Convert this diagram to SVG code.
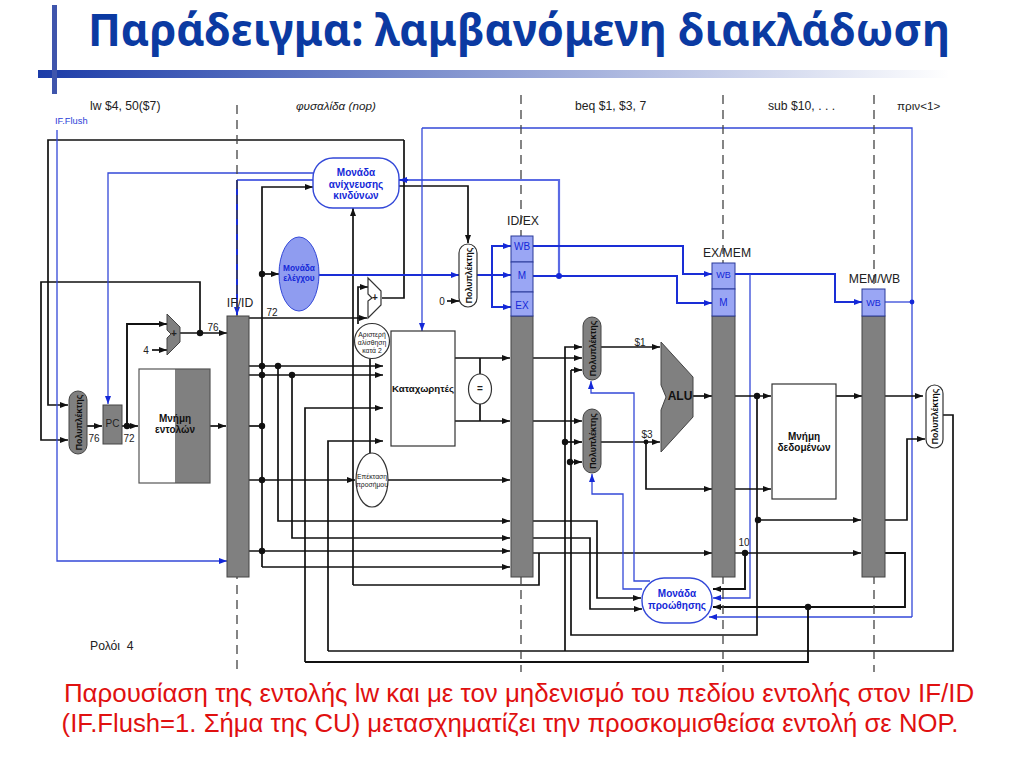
<svg xmlns="http://www.w3.org/2000/svg" width="1024" height="768" viewBox="0 0 1024 768">
<style>
text{font-family:"Liberation Sans",Arial,sans-serif;fill:#222}
.title{font-family:"Noto Sans","Open Sans",sans-serif;font-weight:700;font-size:44px;fill:#0b3aa2}
.hdr{font-size:12.2px}
.cap{font-size:25.700px;fill:#e01010;text-anchor:middle}
.b{font-weight:700;font-size:10px;text-anchor:middle;fill:#111}
.bl{font-weight:700;font-size:10px;text-anchor:middle;fill:#1428d8}
.reg{font-size:10px;text-anchor:middle;fill:#1428d8}
.lab{font-size:12.2px;text-anchor:middle;fill:#222}
.n{font-size:10px;text-anchor:middle;fill:#222}
.tiny{font-size:6.800px;text-anchor:middle;fill:#222}
.mt{font-weight:700;font-size:8.800px;text-anchor:middle;fill:#111}
.dash{stroke:#444;stroke-width:1.3;stroke-dasharray:9 6;fill:none}
.k{fill:none;stroke:#111;stroke-width:1.7}
.kk{fill:none;stroke:#111;stroke-width:1.900}
.u{fill:none;stroke:#1a2ed6;stroke-width:2}
.ut{fill:none;stroke:#3348d8;stroke-width:1.300}
.ul{fill:none;stroke:#5a6ae4;stroke-width:2.200}
.ke{marker-end:url(#ak)}
.ue{marker-end:url(#au)}
.dk{fill:#111}
.du{fill:#1428d8}
.box{fill:#fff;stroke:#333;stroke-width:1.200}
.gray{fill:#808080;stroke:#444;stroke-width:1}
.blue{fill:#9aa6f4;stroke:#2a3a9a;stroke-width:1}
.ubox{fill:#fff;stroke:#3348d8;stroke-width:1.400}
</style>
<defs>
<marker id="ak" markerUnits="userSpaceOnUse" markerWidth="9" markerHeight="7" refX="8" refY="3" orient="auto"><path d="M0 0L8 3L0 6Z" fill="#111"/></marker>
<marker id="au" markerUnits="userSpaceOnUse" markerWidth="9" markerHeight="7" refX="8" refY="3" orient="auto"><path d="M0 0L8 3L0 6Z" fill="#1428d8"/></marker>
<linearGradient id="bar" x1="0" x2="1" y1="0" y2="0"><stop offset="0" stop-color="#1c3ca8"/><stop offset="1" stop-color="#1c3ca8" stop-opacity="0"/></linearGradient>
</defs>
<rect width="1024" height="768" fill="#fff"/>
<g id="title">
<rect x="38" y="70" width="912" height="8" fill="url(#bar)"/>
<rect x="52" y="5" width="5" height="89" fill="#3f55ac"/>
<text class="title" x="88" y="46" textLength="862" lengthAdjust="spacingAndGlyphs">Παράδειγμα: λαμβανόμενη διακλάδωση</text>
</g>
<g id="connectors">
<path class="k" d="M404 140H48V405H68" style="marker-end:url(#ak)"/>
<path class="k" d="M404 140V298H382"/>
<path class="k ke" d="M200 333V282H41V440H68"/>
<path class="ut ue" d="M57 130V561H227"/>
<path class="ut ue" d="M313 173H108V404"/>
<path class="ul" d="M313 180H237"/>
<path class="u ue" d="M237 180V315"/>
<path class="k ke" d="M262 567V187H313"/>
<path class="k ke" d="M262 274H279"/>
<path class="k ke" d="M353 585V208"/>
<path class="k" d="M353 585H539V553"/>
<path class="kk ke" d="M127 426V324H167"/>
<path class="k ke" d="M152 350H167"/>
<path class="k ke" d="M180 333H227"/>
<path class="k ke" d="M249 318H367"/>
<path class="k ke" d="M358 324V287H368"/>
<path class="k" d="M370 359V453"/>
<path class="k ke" d="M249 366H383"/>
<path class="k ke" d="M249 375H383"/>
<path class="k ke" d="M305 662V408H383"/>
<path class="k ke" d="M328 651V441H383"/>
<path class="k" d="M249 426H262"/>
<path class="k ke" d="M249 480H355"/>
<path class="k ke" d="M388 480H510"/>
<path class="k ke" d="M278 366V521H510"/>
<path class="k ke" d="M292 375V538H510"/>
<path class="k ke" d="M249 551H510"/>
<path class="k ke" d="M262 567H510"/>
<path class="k ke" d="M455 358H510"/>
<path class="k ke" d="M455 421H510"/>
<path class="k" d="M480 358V374M480 404V421"/>
<path class="u ue" d="M319 275H459"/>
<path class="u ue" d="M477 275H511"/>
<path class="u ue" d="M492 275V246H511"/>
<path class="u ue" d="M492 275V307H511"/>
<path class="k ke" d="M447 301H459"/>
<path class="k ke" d="M399 186H468V243"/>
<path class="ul" d="M559 276V180H405"/>
<path class="u ue" d="M408 180H399"/>
<path class="u ue" d="M533 276H677V303H712"/>
<path class="u ue" d="M533 246H683V274H712"/>
<path class="ut ue" d="M422 128V331"/>
<path class="ut" d="M422 128H912V617"/>
<path class="ut ue" d="M912 617H709"/>
<path class="ut" d="M885 302H912"/>
<path class="u ue" d="M735 274H835V302H862"/>
<path class="ut ue" d="M750 274V598H713"/>
<path class="kk ke" d="M745 553V589H713"/>
<path class="k ke" d="M533 553H712"/>
<path class="k ke" d="M735 553H861"/>
<path class="kk ke" d="M885 553H905V607H713"/>
<path class="kk" d="M808 607V662H305"/>
<path class="k" d="M328 651H953V415H943"/>
<path class="k" d="M571 370V635H757V396"/>
<path class="k ke" d="M565 651V347H582"/>
<path class="k ke" d="M571 370H582"/>
<path class="k ke" d="M533 358H582"/>
<path class="k ke" d="M533 421H582"/>
<path class="k ke" d="M565 442H582"/>
<path class="k ke" d="M570 462H582"/>
<path class="k ke" d="M601 347H660"/>
<path class="k ke" d="M601 442H660"/>
<path class="k ke" d="M646 442V489H712"/>
<path class="k ke" d="M693 396H712"/>
<path class="k ke" d="M735 396H771"/>
<path class="k ke" d="M735 489H771"/>
<path class="k ke" d="M836 396H862"/>
<path class="k ke" d="M885 396H923"/>
<path class="k ke" d="M885 520H907V439H925"/>
<path class="k ke" d="M757 520H861"/>
<path class="k ke" d="M533 521H597V598H641"/>
<path class="k ke" d="M533 538H590V609H642"/>
<path class="ut ue" d="M642 589H623V494H592V474"/>
<path class="ut ue" d="M650 581H634V393H591V381"/>
<path class="k ke" d="M87 426H102"/>
<path class="k ke" d="M122 426H138"/>
<path class="k ke" d="M210 426H226"/>
<circle class="dk" cx="200" cy="333" r="3.200"/><circle class="dk" cx="127" cy="426" r="3.200"/>
<circle class="dk" cx="262" cy="274" r="3.200"/><circle class="dk" cx="262" cy="366" r="3.200"/><circle class="dk" cx="278" cy="366" r="3.200"/><circle class="dk" cx="262" cy="375" r="3.200"/><circle class="dk" cx="292" cy="375" r="3.200"/>
<circle class="dk" cx="262" cy="426" r="3.200"/><circle class="dk" cx="262" cy="480" r="3.200"/><circle class="dk" cx="262" cy="551" r="3.200"/>
<circle class="dk" cx="565" cy="442" r="3.200"/><circle class="dk" cx="570" cy="462" r="3.200"/><circle class="dk" cx="646" cy="442" r="2.400"/>
<circle class="dk" cx="757" cy="396" r="3.200"/><circle class="dk" cx="758" cy="520" r="3.200"/><circle class="dk" cx="745" cy="553" r="3.200"/><circle class="dk" cx="808" cy="607" r="3.200"/>
<circle class="du" cx="559" cy="276" r="3"/><circle class="du" cx="912" cy="302" r="2.400"/>
</g>
<g id="stage-lines">
<path class="dash" d="M237 105V672"/><path class="dash" d="M521 95V672"/><path class="dash" d="M723 95V672"/><path class="dash" d="M874 95V672"/>
</g>
<g id="mux-pc"><rect class="gray" x="69" y="391" width="18" height="63" rx="9"/><text class="mt" transform="translate(81.500,422.500) rotate(-90)">Πολυπλέκτης</text></g>
<g id="pc"><rect class="gray" x="103" y="405" width="19" height="39"/><text class="n" x="112.500" y="427">PC</text></g>
<g id="adder-pc"><path class="gray" d="M167 314L180 327V342L167 355V338L171 334L167 330Z"/><text class="n" x="174" y="337" style="font-weight:700">+</text></g>
<g id="instr-mem"><rect x="139" y="369" width="71" height="114" fill="#fff"/><rect x="175" y="369" width="35" height="114" fill="#808080"/><rect x="139" y="369" width="71" height="114" fill="none" stroke="#555" stroke-width="1.200"/><text class="b" x="175" y="421.500">Μνήμη</text><text class="b" x="175" y="433">εντολών</text></g>
<g id="if-id"><rect class="gray" x="227" y="316" width="22" height="261"/></g>
<g id="control"><ellipse cx="299" cy="274" rx="20" ry="37" fill="#8f9cf0" stroke="#3348d8" stroke-width="1"/><text class="bl" x="299" y="271" style="font-size:8.300px">Μονάδα</text><text class="bl" x="299" y="281" style="font-size:8.300px">ελέγχου</text></g>
<g id="hazard"><rect class="ubox" x="313" y="158" width="86" height="50" rx="20"/><text class="bl" x="356" y="175.500">Μονάδα</text><text class="bl" x="356" y="187.500">ανίχνευσης</text><text class="bl" x="356" y="198.500">κινδύνων</text></g>
<g id="adder-branch"><path class="box" d="M368 278L381 291V305L368 318V301L372 298L368 294Z"/><text class="n" x="375" y="301" style="font-weight:700">+</text></g>
<g id="shift"><circle class="box" cx="372" cy="341" r="17.500"/><text class="tiny" x="372" y="336.500">Αριστερή</text><text class="tiny" x="372" y="344.500">αλίσθηση</text><text class="tiny" x="372" y="352.500">κατά 2</text></g>
<g id="sign-ext"><ellipse class="box" cx="372" cy="480" rx="16" ry="27"/><text class="tiny" x="372" y="479">Επέκταση</text><text class="tiny" x="372" y="487">προσήμου</text></g>
<g id="regs"><rect class="box" x="391" y="331" width="64" height="115"/><text class="b" x="423" y="392" style="font-size:9.700px">Καταχωρητές</text></g>
<g id="eq"><ellipse class="box" cx="480" cy="389" rx="11.500" ry="15"/><text class="n" x="480" y="392" style="font-weight:700">=</text></g>
<g id="mux-ctrl"><rect class="box" x="459" y="244" width="18" height="63" rx="9"/><text class="mt" transform="translate(471.500,275.500) rotate(-90)">Πολυπλέκτης</text></g>
<g id="id-ex"><rect class="gray" x="511" y="316" width="22" height="261"/><rect class="blue" x="511" y="236" width="22" height="26"/><rect class="blue" x="511" y="262" width="22" height="30"/><rect class="blue" x="511" y="292" width="22" height="24"/><text class="reg" x="522" y="250">WB</text><text class="reg" x="522" y="279">M</text><text class="reg" x="522" y="309">EX</text></g>
<g id="mux-a"><rect class="gray" x="583" y="317" width="18" height="63" rx="9"/><text class="mt" transform="translate(595.500,348.500) rotate(-90)">Πολυπλέκτης</text></g>
<g id="mux-b"><rect class="gray" x="583" y="409" width="18" height="64" rx="9"/><text class="mt" transform="translate(595.500,441) rotate(-90)">Πολυπλέκτης</text></g>
<g id="alu"><path class="gray" d="M661 342L693 377V417L661 452V410L666 397L661 385Z"/><text class="b" x="680" y="400" style="font-size:12px">ALU</text></g>
<g id="ex-mem"><rect class="gray" x="712" y="316" width="23" height="261"/><rect class="blue" x="712" y="263" width="23" height="26"/><rect class="blue" x="712" y="289" width="23" height="27"/><text class="reg" x="723.500" y="278" style="font-size:9px">WB</text><text class="reg" x="723.500" y="306">M</text></g>
<g id="data-mem"><rect class="box" x="772" y="384" width="64" height="115"/><text class="b" x="804" y="440">Μνήμη</text><text class="b" x="804" y="451">δεδομένων</text></g>
<g id="mem-wb"><rect class="gray" x="862" y="316" width="23" height="261"/><rect class="blue" x="862" y="289" width="23" height="27"/><text class="reg" x="873.500" y="306" style="font-size:9px">WB</text></g>
<g id="mux-wb"><rect class="box" x="926" y="385" width="17" height="63" rx="8.500"/><text class="mt" transform="translate(938,416.500) rotate(-90)">Πολυπλέκτης</text></g>
<g id="forward"><rect class="ubox" x="642" y="578" width="70" height="45" rx="22"/><text class="bl" x="677" y="597">Μονάδα</text><text class="bl" x="677" y="609">προώθησης</text></g>
<g id="labels">
<text class="hdr" x="90" y="110">lw $4, 50($7)</text>
<text class="hdr" x="296" y="110" style="font-style:italic;font-size:11.700px">φυσαλίδα (nop)</text>
<text class="hdr" x="575" y="110">beq $1, $3, 7</text>
<text class="hdr" x="768" y="110">sub $10, . . .</text>
<text class="hdr" x="897" y="110" style="font-size:11.700px">πριν&lt;1&gt;</text>
<text x="55" y="124" style="font-size:9.300px;fill:#2a3ed8">IF.Flush</text>
<text class="lab" x="240" y="307">IF/ID</text>
<text class="lab" x="523" y="225">ID/EX</text>
<text class="lab" x="727" y="257">EX/MEM</text>
<text class="lab" x="874.500" y="283">MEM/WB</text>
<text class="n" x="213" y="331">76</text><text class="n" x="272" y="316">72</text><text class="n" x="146" y="354">4</text>
<text class="n" x="94" y="442">76</text><text class="n" x="129" y="442">72</text><text class="n" x="442" y="305">0</text>
<text class="n" x="640" y="346">$1</text><text class="n" x="647" y="438">$3</text><text class="n" x="744" y="546">10</text>
<text class="hdr" x="90" y="650" style="white-space:pre">Ρολόι  4</text>
</g>
<g id="caption">
<text class="cap" x="519" y="702" style="font-size:25.900px">Παρουσίαση της εντολής lw και με τον μηδενισμό του πεδίου εντολής στον IF/ID</text>
<text class="cap" x="510" y="732">(IF.Flush=1. Σήμα της CU) μετασχηματίζει την προσκομισθείσα εντολή σε NOP.</text>
</g>
</svg>
